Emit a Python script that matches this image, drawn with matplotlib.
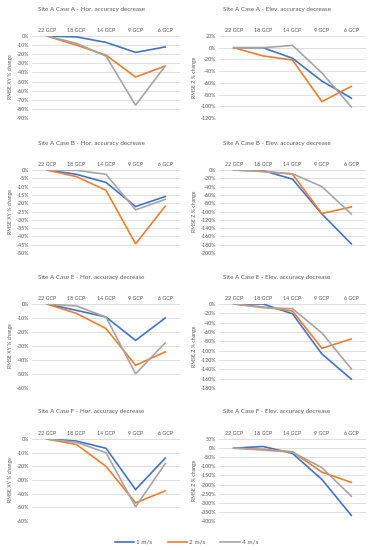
import numpy as np
import matplotlib
matplotlib.use("Agg")
import matplotlib.pyplot as plt
from matplotlib.ticker import FuncFormatter

plt.rcParams['font.family'] = ['Lato', 'DejaVu Sans']

categories = ['22 GCP', '18 GCP', '14 GCP', '9 GCP', '6 GCP']
speeds = ['1 m/s', '2 m/s', '4 m/s']
colors = ['#4472C4', '#ED7D31', '#A5A5A5']

# Site A Case A
a_hor = [[0, -1, -7, -18, -12],
         [0, -10, -21, -45, -33],
         [0, -8, -22, -76, -33]]
a_elev = [[0, 0, -18, -57, -86],
          [0, -14, -21, -92, -66],
          [0, 0, 4, -43, -101]]
# Site A Case B
b_hor = [[0, -2.6, -7.5, -22, -16],
         [0, -4, -12.2, -44.5, -21.8],
         [0, -0.2, -2.6, -24, -17.7]]
b_elev = [[0, -1.5, -22, -106, -178],
          [0, -3, -10, -105, -89],
          [0, -4, -9, -40, -106]]
# Site A Case E
e_hor = [[0, -4.5, -9.3, -26, -10],
         [0, -6.7, -17.5, -43.8, -34.2],
         [0, -1.4, -9.3, -49.8, -27.8]]
e_elev = [[0, 0, -21, -107, -161],
          [0, -6.5, -15, -95, -75],
          [0, -8, -10, -62, -139]]
# Site A Case F
f_hor = [[0, -1.5, -6.8, -37, -14],
         [0, -4, -20, -46.7, -38],
         [0, -2.4, -10, -49.6, -18]]
f_elev = [[0, 9, -29, -172, -369],
          [0, -7, -20, -132, -188],
          [0, -11, -22, -107, -264]]

panels = [
    ('Site A Case A - Hor. accuracy decrease', 'RMSE XY % change', a_hor, np.arange(0, -91, -10)),
    ('Site A Case A - Elev. accuracy decrease', 'RMSE Z % change', a_elev, np.arange(20, -121, -20)),
    ('Site A Case B - Hor. accuracy decrease', 'RMSE XY % change', b_hor, np.arange(0, -51, -5)),
    ('Site A Case B - Elev. accuracy decrease', 'RMSE Z % change', b_elev, np.arange(0, -201, -20)),
    ('Site A Case E - Hor. accuracy decrease', 'RMSE XY % change', e_hor, np.arange(0, -61, -10)),
    ('Site A Case E - Elev. accuracy decrease', 'RMSE Z % change', e_elev, np.arange(0, -181, -20)),
    ('Site A Case F - Hor. accuracy decrease', 'RMSE XY % change', f_hor, np.arange(0, -61, -10)),
    ('Site A Case F - Elev. accuracy decrease', 'RMSE Z % change', f_elev, np.arange(50, -401, -50)),
]

W, H = 373, 550
fig = plt.figure(figsize=(W / 100, H / 100), dpi=100)

col_lr = [(32, 180), (219, 366)]
title_x = [91, 277]
row_tb = [(36, 118), (170, 253), (304, 388), (439, 521)]
txt = '#595959'

x = np.arange(len(categories))
for i, (title, ylab, data, ticks) in enumerate(panels):
    l, r = col_lr[i % 2]
    t, b = row_tb[i // 2]
    ax = fig.add_axes([l / W, 1 - b / H, (r - l) / W, (b - t) / H])
    for s, c in zip(data, colors):
        ax.plot(x, s, color=c, lw=1.2, solid_joinstyle='miter')
    ax.set_xlim(-0.5, len(categories) - 0.5)
    ax.set_ylim(ticks[-1], ticks[0])
    ax.set_yticks(ticks)
    ax.yaxis.set_major_formatter(FuncFormatter(lambda v, p: f'{v:.0f}%'))
    ax.set_xticks(x)
    ax.set_xticklabels(categories)
    ax.xaxis.tick_top()
    ax.tick_params(length=0, labelsize=3.9, colors=txt, pad=2)
    ax.grid(axis='y', color='#D9D9D9', lw=0.6)
    ax.set_axisbelow(True)
    for sp in ax.spines.values():
        sp.set_visible(False)
    ax.set_ylabel(ylab, fontsize=3.7, color=txt, labelpad=3)
    fig.text(title_x[i % 2] / W, 1 - (t - 27) / H, title, fontsize=4.5, color=txt,
             ha='center', va='center')

handles = [plt.Line2D([], [], color=c, lw=1.2) for c in colors]
fig.legend(handles, speeds, loc='center', bbox_to_anchor=(0.5, 1 - 542 / H), ncol=3,
           frameon=False, fontsize=4.6, handlelength=3, columnspacing=2.4,
           labelcolor=txt, handletextpad=0.3)

fig.savefig('out.png', dpi=100, facecolor='white')
